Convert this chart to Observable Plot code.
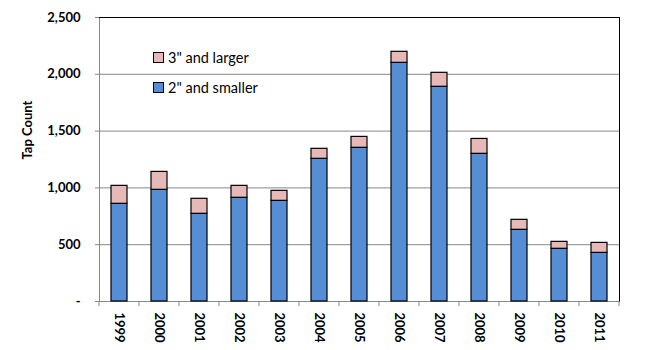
<!DOCTYPE html>
<html>
<head>
<meta charset="utf-8">
<script src="https://cdn.jsdelivr.net/npm/d3@7"></script>
<script src="https://cdn.jsdelivr.net/npm/@observablehq/plot@0.6"></script>
<style>
  html, body { margin: 0; padding: 0; background: #fff; }
  #wrap { position: relative; width: 646px; height: 350px; font-family: Lato, "Open Sans", sans-serif; }
  #legend { position: absolute; left: 153px; top: 42px; font-size: 14.5px; color: #000; }
  .item { display: flex; align-items: center; height: 30px; }
  .sw { width: 9px; height: 9px; border: 1px solid #000; margin-right: 4px; box-sizing: content-box; }
</style>
</head>
<body>
<div id="wrap"></div>
<script>
const years = ["1999","2000","2001","2002","2003","2004","2005","2006","2007","2008","2009","2010","2011"];
const small = [860, 983, 772, 913, 886, 1256, 1353, 2101, 1890, 1300, 631, 464, 428];
const large = [158, 158, 132, 105, 88, 88, 96, 97, 123, 131, 88, 61, 88];
const seriesNames = ["2\" and smaller", "3\" and larger"];
const seriesColors = ["#558ED5", "#E6B9B8"];
const yTicks = [0, 500, 1000, 1500, 2000, 2500];

const rows = [];
years.forEach((y, i) => {
  rows.push({year: y, series: seriesNames[0], value: small[i]});
  rows.push({year: y, series: seriesNames[1], value: large[i]});
});

function bandTicks(index, scales, values, dimensions) {
  const x = scales.x;
  const step = x.step(), bw = x.bandwidth();
  const g = d3.create("svg:g");
  const y0 = dimensions.height - dimensions.marginBottom;
  const bounds = years.map(d => x(d) - (step - bw) / 2);
  bounds.push(bounds[bounds.length - 1] + step);
  g.selectAll("line").data(bounds).join("line")
    .attr("x1", d => d).attr("x2", d => d)
    .attr("y1", y0).attr("y2", y0 + 5)
    .attr("stroke", "#888");
  return g.node();
}

const chart = Plot.plot({
  width: 646,
  height: 350,
  marginLeft: 99,
  marginRight: 27,
  marginTop: 17,
  marginBottom: 49,
  style: {fontFamily: "Lato, 'Open Sans', sans-serif", background: "#fff", color: "#000"},
  x: {domain: years, paddingInner: 0.6, paddingOuter: 0.3, label: null},
  y: {domain: [0, 2500], label: null},
  color: {domain: seriesNames, range: seriesColors},
  marks: [
    Plot.gridY(yTicks.filter(d => d > 0 && d < 2500), {stroke: "#888", strokeOpacity: 1, strokeWidth: 1}),
    Plot.ruleY([0], {stroke: "#888"}),
    Plot.frame({anchor: "left", stroke: "#888"}),
    Plot.frame({anchor: "top", stroke: "#000"}),
    Plot.frame({anchor: "right", stroke: "#000"}),
    Plot.barY(rows, {x: "year", y: "value", fill: "series", stroke: "#000", strokeWidth: 1.2, order: seriesNames}),
    Plot.axisY({ticks: yTicks, tickSize: 4, tickPadding: 15, stroke: "#888",
      tickFormat: d => d === 0 ? "-" : d3.format(",")(d),
      fontSize: 13, fontWeight: "bold", label: null}),
    Plot.text(["Tap Count"], {frameAnchor: "left", rotate: -90, dx: -72, fontSize: 13, fontWeight: "bold"}),
    Plot.axisX({tickSize: 0, tickRotate: 90, tickPadding: 11, fontSize: 13, fontWeight: "bold", label: null}),
    bandTicks
  ]
});

const wrap = document.getElementById("wrap");
wrap.appendChild(chart);
const legend = document.createElement("div");
legend.id = "legend";
[1, 0].forEach(i => {
  const it = document.createElement("div");
  it.className = "item";
  const sw = document.createElement("span");
  sw.className = "sw";
  sw.style.background = seriesColors[i];
  const tx = document.createElement("span");
  tx.textContent = seriesNames[i];
  it.appendChild(sw); it.appendChild(tx);
  legend.appendChild(it);
});
wrap.appendChild(legend);
</script>
</body>
</html>
